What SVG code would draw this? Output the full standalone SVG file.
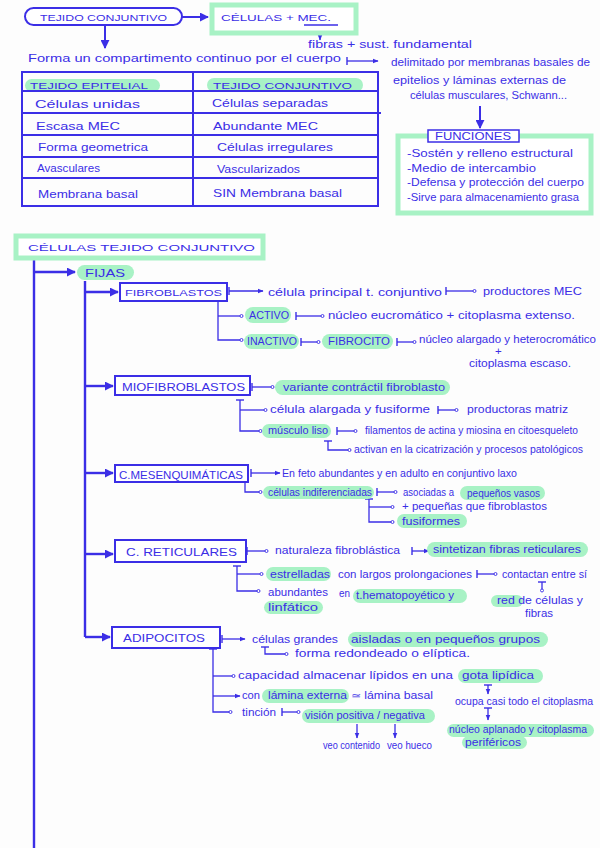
<svg xmlns="http://www.w3.org/2000/svg" width="600" height="848" viewBox="0 0 600 848">
<defs>
<style>
.t{font-family:"Liberation Sans",Arial,sans-serif;fill:#3b2ee6;font-size:11.5px}
.s{font-size:10px}
.c{font-size:9px}
.hl{fill:#a8f2c5}
.g{fill:#fff;stroke:#a8f2c5;stroke-width:5}
.b{fill:#fff;stroke:#3b2ee6;stroke-width:2}
.l{fill:none;stroke:#3b2ee6;stroke-width:1.3}
.tr{stroke-width:2.4}
.tb{fill:none;stroke:#3b2ee6;stroke-width:2}
</style>
<marker id="ah" viewBox="0 0 10 10" refX="9" refY="5" markerUnits="userSpaceOnUse" markerWidth="9" markerHeight="9" orient="auto"><path d="M0,0L10,5L0,10z" fill="#3b2ee6"/></marker>
<marker id="sa" viewBox="0 0 10 10" refX="9" refY="5" markerUnits="userSpaceOnUse" markerWidth="6" markerHeight="6" orient="auto"><path d="M0,1L10,5L0,9z" fill="#3b2ee6"/></marker>
<marker id="od" viewBox="-4 -4 8 8" refX="2" refY="0" markerUnits="userSpaceOnUse" markerWidth="6" markerHeight="6" orient="auto"><circle r="2" fill="#fff" stroke="#3b2ee6" stroke-width="1.2"/></marker>
<marker id="tk" viewBox="-5 -5 10 10" refX="0" refY="0" markerUnits="userSpaceOnUse" markerWidth="10" markerHeight="10" orient="auto"><path d="M0,-4V4" stroke="#3b2ee6" stroke-width="1.4"/></marker>
</defs>
<rect width="600" height="848" fill="#fdfdfd"/>

<g id="connectors">
<path class="tb" d="M182,17H208" marker-end="url(#ah)"/>
<path class="l" d="M320,33V40" marker-end="url(#sa)"/>
<path class="tb" d="M105,26V48" marker-end="url(#ah)"/>
<path class="l" d="M347,61H378" marker-start="url(#tk)" marker-end="url(#sa)"/>
<path class="tb" d="M480,106V128" marker-end="url(#ah)"/>

<path class="l tr" d="M34,259V848"/>
<path class="l tr" d="M34,272H75" marker-end="url(#ah)"/>
<path class="l tr" d="M85,281V637"/>
<path class="l tr" d="M85,292H118" marker-end="url(#ah)"/>
<path class="l tr" d="M85,386H113" marker-end="url(#ah)"/>
<path class="l tr" d="M85,473H113" marker-end="url(#ah)"/>
<path class="l tr" d="M85,554H113" marker-end="url(#ah)"/>
<path class="l tr" d="M85,637H110" marker-end="url(#ah)"/>

<path class="l" d="M229,291H263" marker-start="url(#tk)" marker-end="url(#sa)"/>
<path class="l" d="M446,291H476" marker-start="url(#tk)" marker-end="url(#od)"/>
<path class="l" d="M218,301V340H243" marker-end="url(#od)"/>
<path class="l" d="M218,316H243" marker-end="url(#od)"/>
<path class="l" d="M296,316H324" marker-start="url(#tk)" marker-end="url(#od)"/>
<path class="l" d="M301,342H320" marker-start="url(#tk)" marker-end="url(#od)"/>
<path class="l" d="M397,342H416" marker-start="url(#tk)" marker-end="url(#od)"/>

<path class="l" d="M252,387H274" marker-start="url(#tk)" marker-end="url(#od)"/>
<path class="l" d="M240,400V431H262" marker-start="url(#tk)" marker-end="url(#od)"/>
<path class="l" d="M240,410H267" marker-end="url(#od)"/>
<path class="l" d="M438,410H458" marker-start="url(#tk)" marker-end="url(#od)"/>
<path class="l" d="M337,431H357" marker-start="url(#tk)" marker-end="url(#od)"/>
<path class="l" d="M328,441V450H351" marker-start="url(#tk)" marker-end="url(#od)"/>

<path class="l" d="M251,473H280" marker-start="url(#tk)" marker-end="url(#sa)"/>
<path class="l" d="M245,482V492H262" marker-end="url(#od)"/>
<path class="l" d="M377,492H397" marker-start="url(#tk)" marker-end="url(#od)"/>
<path class="l" d="M369,499V522H394" marker-start="url(#tk)" marker-end="url(#od)"/>
<path class="l" d="M369,507H394" marker-end="url(#od)"/>

<path class="l" d="M247,551H268" marker-start="url(#tk)" marker-end="url(#od)"/>
<path class="l" d="M412,551H429" marker-start="url(#tk)" marker-end="url(#sa)"/>
<path class="l" d="M237,566V591H260" marker-start="url(#tk)" marker-end="url(#od)"/>
<path class="l" d="M237,574H263" marker-end="url(#od)"/>
<path class="l" d="M477,574H497" marker-start="url(#tk)" marker-end="url(#od)"/>
<path class="l" d="M542,582V592" marker-start="url(#tk)" marker-end="url(#od)"/>

<path class="l" d="M222,639H245" marker-start="url(#tk)" marker-end="url(#sa)"/>
<path class="l" d="M265,647V654H288" marker-start="url(#tk)" marker-end="url(#od)"/>
<path class="l" d="M213,649V712H232" marker-start="url(#tk)" marker-end="url(#od)"/>
<path class="l" d="M213,676H235" marker-end="url(#od)"/>
<path class="l" d="M213,696H240" marker-end="url(#sa)"/>
<path class="l" d="M282,712H300" marker-start="url(#tk)" marker-end="url(#od)"/>
<path class="l" d="M488,685V694" marker-start="url(#tk)" marker-end="url(#sa)"/>
<path class="l" d="M488,708V720" marker-start="url(#tk)" marker-end="url(#sa)"/>
<path class="l" d="M357,724V738" marker-end="url(#sa)"/>
<path class="l" d="M395,724V738" marker-end="url(#sa)"/>
</g>

<g id="n-tejido-conjuntivo">
<rect class="b" x="25" y="8" width="157" height="17" rx="8.5"/>
<text class="t c" x="40" y="20.5" textLength="127" lengthAdjust="spacingAndGlyphs">TEJIDO CONJUNTIVO</text>
</g>
<g id="n-celulas-mec">
<rect class="g" x="212" y="5" width="144" height="28"/>
<text class="t c" x="221" y="21" textLength="110" lengthAdjust="spacingAndGlyphs">CÉLULAS + MEC.</text>
<path class="l" d="M304,25H338"/>
</g>
<g id="n-fibras">
<text class="t" x="308" y="48" textLength="164" lengthAdjust="spacingAndGlyphs">fibras + sust. fundamental</text>
</g>
<g id="n-forma">
<text class="t" x="28" y="62" textLength="313" lengthAdjust="spacingAndGlyphs">Forma un compartimento continuo   por el cuerpo</text>
</g>
<g id="n-delimitado">
<text class="t" x="391" y="66" textLength="199" lengthAdjust="spacingAndGlyphs">delimitado por membranas basales de</text>
<text class="t" x="393" y="84" textLength="173" lengthAdjust="spacingAndGlyphs">epitelios y láminas externas de</text>
<text class="t" x="410" y="99" textLength="157" lengthAdjust="spacingAndGlyphs">células musculares, Schwann...</text>
</g>

<g id="n-tabla">
<rect x="25" y="79" width="135" height="13" rx="6.5" class="hl"/>
<rect x="207" y="78" width="156" height="14" rx="7" class="hl"/>
<rect x="22" y="72" width="356" height="134" fill="none" stroke="#3b2ee6" stroke-width="2"/>
<path class="tb" d="M193,72V206M22,91H378M22,113H381M22,135H378M22,157H378M22,178H378"/>
<text class="t c" x="30" y="89" textLength="118" lengthAdjust="spacingAndGlyphs">TEJIDO EPITELIAL</text>
<text class="t c" x="213" y="89" textLength="139" lengthAdjust="spacingAndGlyphs">TEJIDO CONJUNTIVO</text>
<text class="t" x="35" y="108" textLength="105" lengthAdjust="spacingAndGlyphs">Células unidas</text>
<text class="t" x="212" y="107" textLength="116" lengthAdjust="spacingAndGlyphs">Células separadas</text>
<text class="t" x="36" y="130" textLength="84" lengthAdjust="spacingAndGlyphs">Escasa MEC</text>
<text class="t" x="213" y="130" textLength="105" lengthAdjust="spacingAndGlyphs">Abundante MEC</text>
<text class="t" x="38" y="151" textLength="110" lengthAdjust="spacingAndGlyphs">Forma geometrica</text>
<text class="t" x="217" y="151" textLength="116" lengthAdjust="spacingAndGlyphs">Células irregulares</text>
<text class="t" x="37" y="172" textLength="63" lengthAdjust="spacingAndGlyphs">Avasculares</text>
<text class="t" x="217" y="173" textLength="83" lengthAdjust="spacingAndGlyphs">Vascularizados</text>
<text class="t" x="38" y="198" textLength="100" lengthAdjust="spacingAndGlyphs">Membrana basal</text>
<text class="t" x="213" y="197" textLength="129" lengthAdjust="spacingAndGlyphs">SIN Membrana basal</text>
</g>

<g id="n-funciones">
<rect class="g" x="398" y="136" width="193" height="77"/>
<rect x="428" y="130" width="91" height="12" fill="#fff" stroke="#3b2ee6" stroke-width="1.5"/>
<text class="t" x="435" y="139.5" font-size="8" textLength="76" lengthAdjust="spacingAndGlyphs">FUNCIONES</text>
<text class="t" x="407" y="157" textLength="166" lengthAdjust="spacingAndGlyphs">-Sostén y relleno estructural</text>
<text class="t" x="407" y="172" textLength="129" lengthAdjust="spacingAndGlyphs">-Medio de intercambio</text>
<text class="t" x="407" y="186" textLength="177" lengthAdjust="spacingAndGlyphs">-Defensa y protección del cuerpo</text>
<text class="t" x="407" y="201" textLength="172" lengthAdjust="spacingAndGlyphs">-Sirve para almacenamiento grasa</text>
</g>

<g id="n-celulas-tc">
<rect class="g" x="16" y="236" width="247" height="22"/>
<text class="t c" x="28" y="251" textLength="227" lengthAdjust="spacingAndGlyphs">CÉLULAS TEJIDO CONJUNTIVO</text>
</g>
<g id="n-fijas">
<rect x="77" y="265" width="57" height="15" rx="7.5" class="hl"/>
<text class="t" x="85" y="277" textLength="40" lengthAdjust="spacingAndGlyphs">FIJAS</text>
</g>

<g id="n-fibroblastos">
<rect class="b" x="120" y="283" width="107" height="18"/>
<text class="t c" x="125" y="296" textLength="97" lengthAdjust="spacingAndGlyphs">FIBROBLASTOS</text>
<text class="t" x="268" y="296" textLength="174" lengthAdjust="spacingAndGlyphs">célula principal t. conjuntivo</text>
<text class="t" x="483" y="295" textLength="99" lengthAdjust="spacingAndGlyphs">productores MEC</text>
<rect x="245" y="307" width="46" height="16" rx="8" class="hl"/>
<text class="t s" x="249" y="319" textLength="40" lengthAdjust="spacingAndGlyphs">ACTIVO</text>
<text class="t s" x="328" y="319" textLength="247" lengthAdjust="spacingAndGlyphs">núcleo eucromático + citoplasma extenso.</text>
<rect x="244" y="334" width="55" height="15" rx="7.5" class="hl"/>
<text class="t s" x="247" y="345" textLength="50" lengthAdjust="spacingAndGlyphs">INACTIVO</text>
<rect x="322" y="334" width="71" height="15" rx="7.5" class="hl"/>
<text class="t s" x="328" y="345" textLength="62" lengthAdjust="spacingAndGlyphs">FIBROCITO</text>
<text class="t s" x="419" y="343" textLength="177" lengthAdjust="spacingAndGlyphs">núcleo alargado y heterocromático</text>
<text class="t" x="495" y="355" font-size="8">+</text>
<text class="t s" x="469" y="367" textLength="102" lengthAdjust="spacingAndGlyphs">citoplasma escaso.</text>
</g>

<g id="n-miofibroblastos">
<rect class="b" x="115" y="376" width="135" height="19"/>
<text class="t" x="122" y="391" textLength="123" lengthAdjust="spacingAndGlyphs">MIOFIBROBLASTOS</text>
<rect x="275" y="380" width="175" height="15" rx="7.5" class="hl"/>
<text class="t" x="283" y="391" textLength="162" lengthAdjust="spacingAndGlyphs">variante contráctil fibroblasto</text>
<text class="t s" x="270" y="413" textLength="160" lengthAdjust="spacingAndGlyphs">célula alargada y fusiforme</text>
<text class="t s" x="467" y="413" textLength="101" lengthAdjust="spacingAndGlyphs">productoras matriz</text>
<rect x="262" y="424" width="69" height="14" rx="7" class="hl"/>
<text class="t s" x="268" y="434" textLength="60" lengthAdjust="spacingAndGlyphs">músculo liso</text>
<text class="t s" x="365" y="434" textLength="213" lengthAdjust="spacingAndGlyphs">filamentos de actina y miosina en citoesqueleto</text>
<text class="t s" x="354" y="453" textLength="229" lengthAdjust="spacingAndGlyphs">activan en la cicatrización y procesos patológicos</text>
</g>

<g id="n-mesenquimaticas">
<rect class="b" x="115" y="465" width="133" height="17"/>
<text class="t" x="119" y="478.5" textLength="124" lengthAdjust="spacingAndGlyphs">C.MESENQUIMÁTICAS</text>
<text class="t s" x="282" y="477" textLength="235" lengthAdjust="spacingAndGlyphs">En feto abundantes y en adulto en conjuntivo laxo</text>
<rect x="263" y="486" width="111" height="13" rx="6.5" class="hl"/>
<text class="t s" x="268" y="496" textLength="104" lengthAdjust="spacingAndGlyphs">células indiferenciadas</text>
<text class="t s" x="403" y="496" textLength="51" lengthAdjust="spacingAndGlyphs">asociadas a</text>
<rect x="460" y="486" width="85" height="14" rx="7" class="hl"/>
<text class="t s" x="467" y="497" textLength="73" lengthAdjust="spacingAndGlyphs">pequeños vasos</text>
<text class="t s" x="402" y="510" textLength="145" lengthAdjust="spacingAndGlyphs">+ pequeñas que fibroblastos</text>
<rect x="397" y="514" width="70" height="14" rx="7" class="hl"/>
<text class="t s" x="402" y="525" textLength="58" lengthAdjust="spacingAndGlyphs">fusiformes</text>
</g>

<g id="n-reticulares">
<rect class="b" x="115" y="540" width="131" height="22"/>
<text class="t" x="126" y="556" textLength="111" lengthAdjust="spacingAndGlyphs">C. RETICULARES</text>
<text class="t" x="275" y="554" textLength="125" lengthAdjust="spacingAndGlyphs">naturaleza fibroblástica</text>
<rect x="427" y="542" width="161" height="15" rx="7.5" class="hl"/>
<text class="t s" x="433" y="553" textLength="148" lengthAdjust="spacingAndGlyphs">sintetizan fibras reticulares</text>
<rect x="266" y="567" width="65" height="14" rx="7" class="hl"/>
<text class="t s" x="270" y="578" textLength="60" lengthAdjust="spacingAndGlyphs">estrelladas</text>
<text class="t s" x="338" y="578" textLength="134" lengthAdjust="spacingAndGlyphs">con largos prolongaciones</text>
<text class="t s" x="502" y="578" textLength="85" lengthAdjust="spacingAndGlyphs">contactan entre sí</text>
<text class="t s" x="268" y="596" textLength="60" lengthAdjust="spacingAndGlyphs">abundantes</text>
<text class="t s" x="339" y="597" textLength="11" lengthAdjust="spacingAndGlyphs">en</text>
<rect x="353" y="589" width="114" height="14" rx="7" class="hl"/>
<text class="t s" x="356" y="599" textLength="98" lengthAdjust="spacingAndGlyphs">t.hematopoyético  y</text>
<rect x="264" y="601" width="59" height="13" rx="6.5" class="hl"/>
<text class="t s" x="268" y="611" textLength="50" lengthAdjust="spacingAndGlyphs">linfático</text>
<rect x="491" y="595" width="32" height="12" rx="6" class="hl"/>
<text class="t s" x="497" y="604" font-size="9.5" textLength="86" lengthAdjust="spacingAndGlyphs">red de células  y</text>
<text class="t s" x="525" y="617" font-size="9.5" textLength="28" lengthAdjust="spacingAndGlyphs">fibras</text>
</g>

<g id="n-adipocitos">
<rect class="b" x="112" y="627" width="108" height="21"/>
<text class="t" x="123" y="642" textLength="82" lengthAdjust="spacingAndGlyphs">ADIPOCITOS</text>
<text class="t" x="252" y="643" textLength="86" lengthAdjust="spacingAndGlyphs">células grandes</text>
<rect x="348" y="632" width="200" height="15" rx="7.5" class="hl"/>
<text class="t" x="351" y="643" textLength="189" lengthAdjust="spacingAndGlyphs">aisladas o en pequeños grupos</text>
<text class="t s" x="295" y="657" textLength="175" lengthAdjust="spacingAndGlyphs">forma redondeado o elíptica.</text>
<text class="t s" x="238" y="679" textLength="215" lengthAdjust="spacingAndGlyphs">capacidad almacenar lípidos en una</text>
<rect x="458" y="669" width="85" height="14" rx="7" class="hl"/>
<text class="t s" x="462" y="679" textLength="72" lengthAdjust="spacingAndGlyphs">gota lipídica</text>
<text class="t s" x="455" y="705" textLength="138" lengthAdjust="spacingAndGlyphs">ocupa casi todo el citoplasma</text>
<rect x="447" y="724" width="147" height="13" rx="6.5" class="hl"/>
<rect x="462" y="736" width="65" height="13" rx="6.5" class="hl"/>
<text class="t s" x="449" y="733" font-size="9.5" textLength="138" lengthAdjust="spacingAndGlyphs">núcleo aplanado y citoplasma</text>
<text class="t s" x="465" y="746" font-size="9.5" textLength="56" lengthAdjust="spacingAndGlyphs">periféricos</text>
<text class="t s" x="242" y="699" textLength="18" lengthAdjust="spacingAndGlyphs">con</text>
<rect x="262" y="689" width="87" height="14" rx="7" class="hl"/>
<text class="t s" x="268" y="699" textLength="79" lengthAdjust="spacingAndGlyphs">lámina externa</text>
<text class="t s" x="351" y="699" textLength="82" lengthAdjust="spacingAndGlyphs">≃ lámina basal</text>
<text class="t s" x="242" y="716" textLength="34" lengthAdjust="spacingAndGlyphs">tinción</text>
<rect x="302" y="709" width="133" height="14" rx="7" class="hl"/>
<text class="t s" x="305" y="719" textLength="120" lengthAdjust="spacingAndGlyphs">visión positiva / negativa</text>
<text class="t s" x="323" y="749" font-size="9" textLength="57" lengthAdjust="spacingAndGlyphs">veo contenido</text>
<text class="t s" x="387" y="749" font-size="9" textLength="45" lengthAdjust="spacingAndGlyphs">veo hueco</text>
</g>
</svg>
